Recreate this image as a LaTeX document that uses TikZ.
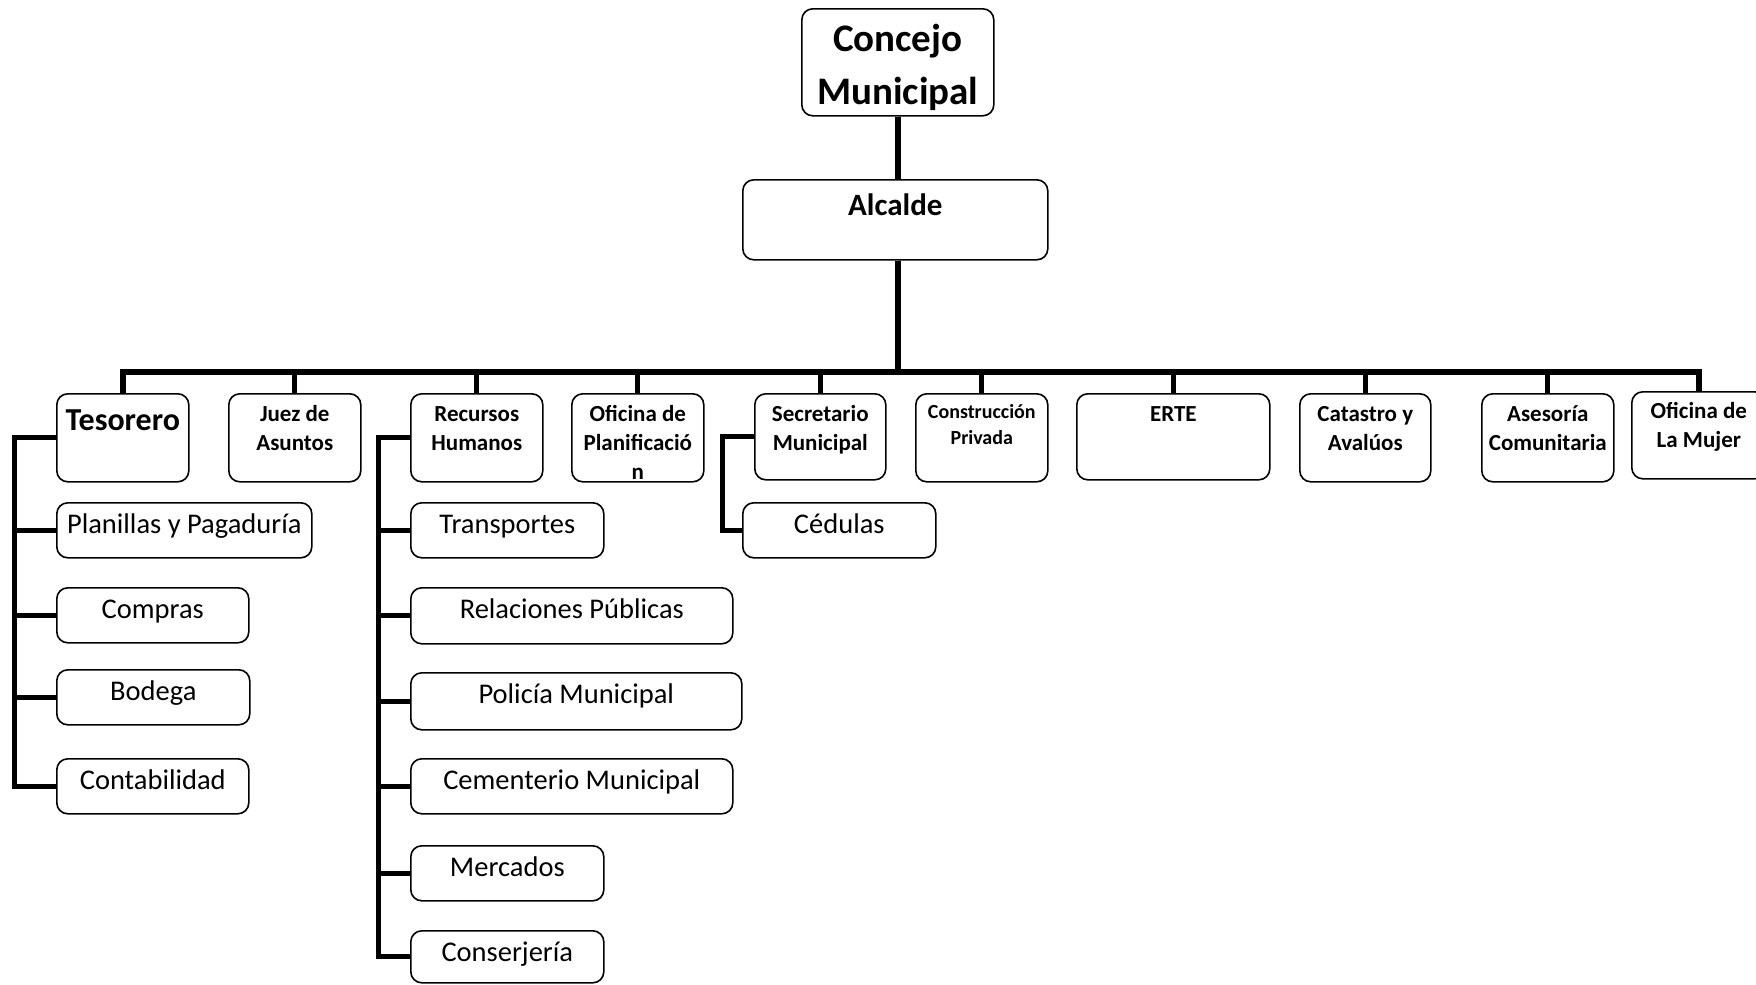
\documentclass[tikz,border=0pt]{standalone}
\usepackage{fontspec}
\setmainfont{Carlito}

\tikzset{
  box/.style={draw, line width=1.6pt, rounded corners=11pt, fill=white,
    inner sep=0pt, align=flush center, anchor=north west},
  head/.style={box, font=\fontsize{23}{29}\selectfont\bfseries,
    text width=132pt, text height=27.5pt, text depth=60.5pt},
  sub/.style={box, font=\fontsize{28.5}{34}\selectfont,
    text height=31pt, text depth=24pt},
  link/.style={line width=5pt},
  bus/.style={line width=5.5pt},
  trunk/.style={line width=6.5pt}
}

\begin{document}
\begin{tikzpicture}[x=1pt, y=-1pt]
\useasboundingbox (0,0) rectangle (1756,985);

% top of the chart
\node[box, font=\fontsize{39}{53}\selectfont\bfseries, text width=192pt,
  text height=43pt, text depth=64pt] (concejo) at (801,8) {Concejo\\Municipal};
\node[box, font=\fontsize{31}{36}\selectfont\bfseries, text width=305pt,
  text height=36pt, text depth=44pt] (alcalde) at (742,179) {Alcalde};

% second row
\node[head, font=\fontsize{32}{38}\selectfont\bfseries, text height=37pt,
  text depth=51pt] (tes) at (56,393) {Tesorero};
\node[head] (juez) at (228,393) {Juez de\\Asuntos};
\node[head] (rrhh) at (410,393) {Recursos\\Humanos};
\node[head] (planif) at (571,393) {Oficina de\\Planificació\\n};
\node[head, text width=131pt, text depth=58.5pt] (secre) at (754,393) {Secretario\\Municipal};
\node[head, font=\fontsize{20}{26}\selectfont\bfseries, text height=25pt,
  text depth=63pt] (constr) at (915,393) {Construcción\\Privada};
\node[head, text width=193pt, text depth=58.5pt] (erte) at (1076,393) {ERTE};
\node[head, text width=131pt] (catastro) at (1299,393) {Catastro y\\Avalúos};
\node[head] (asesoria) at (1481,393) {Asesoría\\Comunitaria};
\node[head, text width=134pt, text height=26.5pt, text depth=60.5pt] (mujer) at (1631,391) {Oficina de\\La Mujer};

% Tesorero
\node[sub, text width=255pt] (planillas) at (56,502) {Planillas y Pagaduría};
\node[sub, text width=192pt] (compras) at (56,587) {Compras};
\node[sub, text width=193pt] (bodega) at (56,669) {Bodega};
\node[sub, text width=192pt] (conta) at (56,758) {Contabilidad};

% Recursos Humanos
\node[sub, text width=193pt] (transp) at (410,502) {Transportes};
\node[sub, text width=322pt, text depth=25pt] (relac) at (410,587) {Relaciones Públicas};
\node[sub, text width=331pt, text depth=26pt] (policia) at (410,672) {Policía Municipal};
\node[sub, text width=322pt] (cement) at (410,758) {Cementerio Municipal};
\node[sub, text width=193pt] (merc) at (410,845) {Mercados};
\node[sub, text width=193pt, text depth=21pt] (conser) at (410,930) {Conserjería};

% Secretario
\node[sub, text width=193pt] (cedulas) at (742,502) {Cédulas};

\coordinate (bus) at (0,372);
\coordinate (tbar) at (14.5,0);
\coordinate (rbar) at (378.5,0);
\coordinate (sbar) at (722.5,0);

\draw[trunk] (concejo.south) -- (concejo.south |- alcalde.north);
\draw[trunk] (concejo.south |- alcalde.south) -- (concejo.south |- bus);
\draw[bus] (tes.north) -- (tes.north |- bus) -- (mujer.north |- bus) -- (mujer.north);
\foreach \n in {juez,rrhh,planif,secre,constr,erte,catastro,asesoria}
  \draw[link] (\n.north) -- (\n.north |- bus);

\draw[link] (tes.west) -- (tes.west -| tbar) |- (conta.west);
\foreach \n in {planillas,compras,bodega}
  \draw[link] (\n.west -| tbar) -- (\n.west);

\draw[link] (rrhh.west) -- (rrhh.west -| rbar) |- (conser.west);
\foreach \n in {transp,relac,policia,cement,merc}
  \draw[link] (\n.west -| rbar) -- (\n.west);

\draw[link] (secre.west) -- (secre.west -| sbar) |- (cedulas.west);
\end{tikzpicture}
\end{document}
